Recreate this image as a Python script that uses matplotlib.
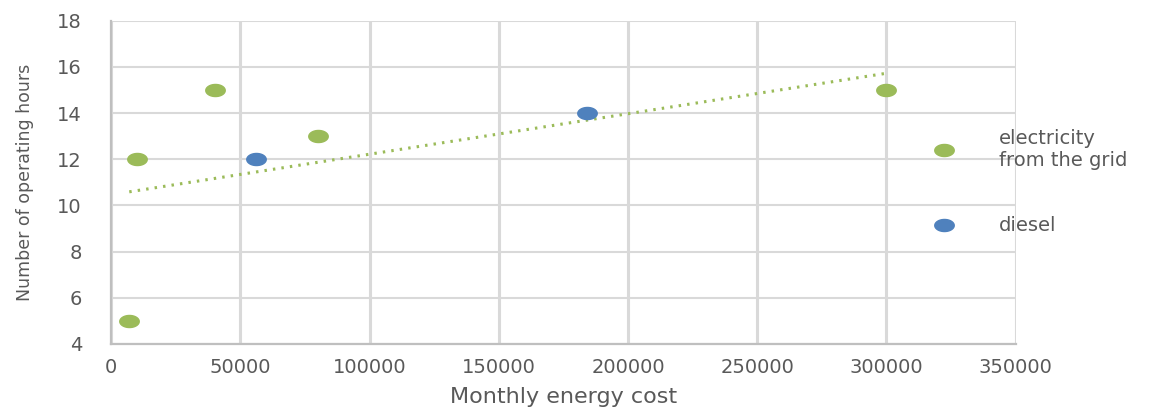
import numpy as np
import matplotlib.pyplot as plt
from matplotlib.path import Path

# monthly energy cost vs daily operating hours, by power source
grid_cost = [7000, 10000, 40000, 80000, 300000]
grid_hours = [5, 12, 15, 13, 15]
diesel_cost = [56000, 184000]
diesel_hours = [12, 14]

x_ticks = [0, 50000, 100000, 150000, 200000, 250000, 300000, 350000]
y_ticks = [4, 6, 8, 10, 12, 14, 16, 18]

GREEN = '#9BBB59'
BLUE = '#4F81BD'
TEXT = '#595959'
GRID = '#D9D9D9'

# flattened ellipse marker
t = np.linspace(0, 2 * np.pi, 60)
oval = Path(np.column_stack([np.cos(t), 0.62 * np.sin(t)]), closed=True)

fig = plt.figure(figsize=(11.7, 4.08), dpi=100)
ax = fig.add_axes([0.095, 0.157, 0.773, 0.792])

ax.plot(grid_cost, grid_hours, linestyle='none', marker=oval, ms=14,
        color=GREEN, label='electricity\nfrom the grid', zorder=3)
ax.plot(diesel_cost, diesel_hours, linestyle='none', marker=oval, ms=14,
        color=BLUE, label='diesel', zorder=3)

# linear trendline for the grid series
slope, icpt = np.polyfit(grid_cost, grid_hours, 1)
xs = np.array([min(grid_cost), max(grid_cost)])
ax.plot(xs, slope * xs + icpt, linestyle=(0, (0.8, 2.0)), lw=2.2,
        color=GREEN, zorder=2)

ax.set_xlim(0, 350000)
ax.set_ylim(4, 18)
ax.set_xticks(x_ticks)
ax.set_yticks(y_ticks)
ax.tick_params(length=0, labelsize=14, labelcolor=TEXT)
ax.tick_params(axis='x', pad=10)
ax.tick_params(axis='y', pad=21)

ax.grid(axis='x', color=GRID, lw=2.2)
ax.grid(axis='y', color=GRID, lw=1.5)
ax.set_axisbelow(True)
for side in ['top', 'right']:
    ax.spines[side].set_visible(False)
for side in ['left', 'bottom']:
    ax.spines[side].set_color('#BFBFBF')
    ax.spines[side].set_linewidth(1.6)

ax.set_xlabel('Monthly energy cost', fontsize=16, color=TEXT, labelpad=7)
ax.set_ylabel('Number of operating hours', fontsize=12.5, color=TEXT,
              labelpad=17)

leg = ax.legend(loc='upper left', bbox_to_anchor=(0.891, 0.69),
                frameon=False, fontsize=14, labelcolor=TEXT,
                handletextpad=1.8, labelspacing=2.4, borderaxespad=0)
for h in leg.legend_handles:
    h.set_markersize(14)

fig.savefig('out.png', dpi=100)
